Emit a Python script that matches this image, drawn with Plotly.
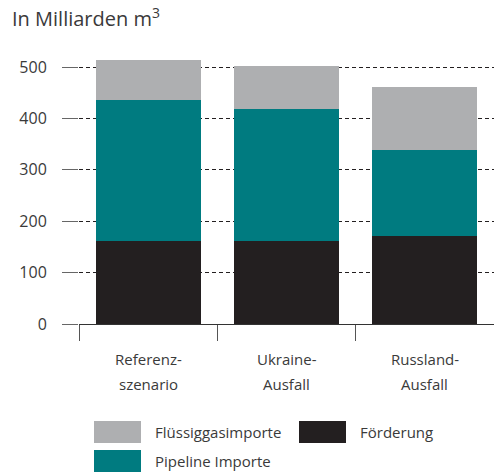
import plotly.graph_objects as go

categories = ["Referenz-szenario", "Ukraine-Ausfall", "Russland-Ausfall"]
label_line1 = ["Referenz-", "Ukraine-", "Russland-"]
label_line2 = ["szenario", "Ausfall", "Ausfall"]

foerderung = [162, 162, 171]
pipeline = [274, 256, 168]
fluessiggas = [78, 84, 123]

y_ticks = [0, 100, 200, 300, 400, 500]

C_BLACK = "#231F20"
C_TEAL = "#007B80"
C_GRAY = "#AEAFB1"
TXT = "#3a3a3a"
FONT = "Open Sans"

W, H = 494, 472
ML, MR, MT, MB = 79, 0, 46, 148
PW, PH = W - ML - MR, H - MT - MB

def px(xp):
    return (xp - ML) / PW

def py(yp):
    return (H - MB - yp) / PH

fig = go.Figure()
fig.add_trace(go.Bar(x=categories, y=foerderung, name="Förderung", marker_color=C_BLACK, marker_line_width=0))
fig.add_trace(go.Bar(x=categories, y=pipeline, name="Pipeline Importe", marker_color=C_TEAL, marker_line_width=0))
fig.add_trace(go.Bar(x=categories, y=fluessiggas, name="Flüssiggasimporte", marker_color=C_GRAY, marker_line_width=0))

annotations = []
for c, l1, l2 in zip(categories, label_line1, label_line2):
    annotations.append(dict(x=c, xref="x", y=py(359), yref="paper", text=l1, showarrow=False,
                            xanchor="center", yanchor="middle", font=dict(size=15, color=TXT, family=FONT)))
    annotations.append(dict(x=c, xref="x", y=py(384), yref="paper", text=l2, showarrow=False,
                            xanchor="center", yanchor="middle", font=dict(size=15, color=TXT, family=FONT)))

legend_items = [
    ("Flüssiggasimporte", C_GRAY, 94, 421),
    ("Förderung", C_BLACK, 299, 421),
    ("Pipeline Importe", C_TEAL, 94, 450),
]
shapes = []
for name, col, x0, y0 in legend_items:
    shapes.append(dict(type="rect", xref="paper", yref="paper", x0=px(x0), x1=px(x0 + 47),
                       y0=py(y0), y1=py(y0 + 22), fillcolor=col, line=dict(width=0)))
    annotations.append(dict(x=px(x0 + 59), xref="paper", y=py(y0 + 11), yref="paper", text=name,
                            showarrow=False, xanchor="left", yanchor="middle",
                            font=dict(size=15, color=TXT, family=FONT)))

fig.update_layout(
    width=W, height=H,
    margin=dict(l=ML, r=MR, t=MT, b=MB),
    barmode="stack", bargap=0.24,
    plot_bgcolor="white", paper_bgcolor="white",
    showlegend=False,
    font=dict(family=FONT, color=TXT),
    title=dict(text="In Milliarden m<sup>3</sup>", x=12 / W, xref="container", xanchor="left",
               y=1 - 19 / H, yref="container", yanchor="middle",
               font=dict(size=20, color=TXT, family=FONT)),
    xaxis=dict(type="category", range=[-0.5, 2.5], tickson="boundaries", ticks="outside",
               ticklen=16, tickcolor="#555", tickwidth=1, showticklabels=False,
               showline=True, linecolor="#333", linewidth=1, showgrid=False),
    yaxis=dict(range=[0, PH / 0.514], tickvals=y_ticks, ticks="outside", ticklen=16,
               tickcolor="#666", tickwidth=1, ticklabelstandoff=12,
               tickfont=dict(size=16, color=TXT, family=FONT),
               showgrid=True, gridcolor=C_BLACK, gridwidth=1.2, griddash="4px,3px",
               zeroline=False, showline=False),
    shapes=shapes,
    annotations=annotations,
)

fig.write_html("out.html", config={"displayModeBar": False},
               post_script="document.body.style.margin='0';document.body.style.overflow='hidden';")
